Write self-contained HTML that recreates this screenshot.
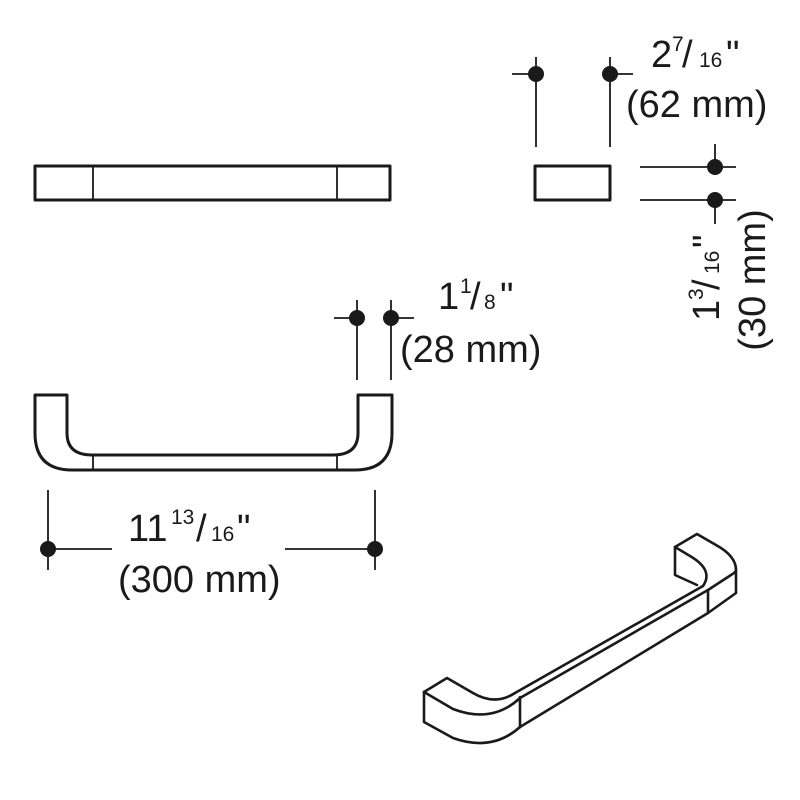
<!DOCTYPE html>
<html><head><style>
html,body{margin:0;padding:0;background:#fff;}
svg{display:block;}
text{font-family:"Liberation Sans",Arial,sans-serif;fill:#1a1a1a;}
</style></head><body>
<svg width="800" height="800" viewBox="0 0 800 800" xmlns="http://www.w3.org/2000/svg">
<g fill="none" stroke="#1a1a1a" stroke-width="3" stroke-linejoin="round">
  <rect x="35" y="166" width="355" height="34"/>
  <rect x="535" y="166" width="75" height="34"/>
</g>
<g stroke="#1a1a1a" stroke-width="1.8" fill="none">
  <line x1="93" y1="166" x2="93" y2="200"/>
  <line x1="337" y1="166" x2="337" y2="200"/>
  <line x1="536" y1="57" x2="536" y2="147"/>
  <line x1="512" y1="74" x2="536" y2="74"/>
  <line x1="610" y1="57" x2="610" y2="147"/>
  <line x1="610" y1="74" x2="633" y2="74"/>
  <line x1="640" y1="167" x2="736" y2="167"/>
  <line x1="640" y1="200" x2="736" y2="200"/>
  <line x1="715" y1="144" x2="715" y2="167"/>
  <line x1="715" y1="200" x2="715" y2="224"/>
  <line x1="357" y1="300" x2="357" y2="380"/>
  <line x1="334" y1="318" x2="357" y2="318"/>
  <line x1="391" y1="300" x2="391" y2="380"/>
  <line x1="391" y1="318" x2="414" y2="318"/>
  <line x1="48" y1="490" x2="48" y2="570"/>
  <line x1="375" y1="490" x2="375" y2="570"/>
  <line x1="48" y1="549" x2="112" y2="549"/>
  <line x1="285" y1="549" x2="375" y2="549"/>
</g>
<g fill="#1a1a1a">
  <circle cx="536" cy="74" r="8"/>
  <circle cx="610" cy="74" r="8"/>
  <circle cx="715" cy="167" r="8"/>
  <circle cx="715" cy="200" r="8"/>
  <circle cx="357" cy="318" r="8"/>
  <circle cx="391" cy="318" r="8"/>
  <circle cx="48" cy="549" r="8"/>
  <circle cx="375" cy="549" r="8"/>
</g>
<g fill="none" stroke="#1a1a1a" stroke-width="3" stroke-linejoin="round">
  <path d="M35 395 L67 395 L67 433 Q67 455 92 455 L333 455 Q358 455 358 433 L358 395 L392 395 L392 433 Q392 470 355 470 L72 470 Q35 470 35 433 Z"/>
</g>
<g stroke="#1a1a1a" stroke-width="1.8">
  <line x1="93" y1="455" x2="93" y2="470"/>
  <line x1="337" y1="455" x2="337" y2="470"/>
</g>
<g fill="none" stroke="#1a1a1a" stroke-width="2.6" stroke-linejoin="round" stroke-linecap="round">
  <path d="M424 692 L447 678 L473 693 Q495 706 515 693"/>
  <path d="M424 692 L453 709 Q492 724 520 698"/>
  <path d="M424 692 L424 722 L453 738 Q492 752 520 727"/>
  <line x1="520" y1="697" x2="520" y2="727"/>
  <line x1="515" y1="693" x2="703" y2="586"/>
  <line x1="520" y1="698" x2="708" y2="590"/>
  <line x1="520" y1="727" x2="708" y2="613"/>
  <line x1="708" y1="590" x2="708" y2="613"/>
  <path d="M675 547 L697 534 L716 545 Q736 556 736 570 L736 593 L708 613"/>
  <path d="M708 590 L731 575 Q736 572 736 570"/>
  <path d="M675 547 L675 575 L697 585"/>
  <path d="M675 547 L690 556 Q714 570 703 586"/>
</g>
<text x="651" y="67" font-size="38">2</text>
<text x="672" y="51" font-size="21">7</text>
<text x="682" y="67" font-size="38">/</text>
<text x="699" y="67" font-size="21">16</text>
<text x="726" y="67" font-size="38">"</text>
<text x="626" y="117" font-size="38">(62 mm)</text>

<text x="438" y="309" font-size="38">1</text>
<text x="460" y="293" font-size="21">1</text>
<text x="470" y="309" font-size="38">/</text>
<text x="484" y="309" font-size="21">8</text>
<text x="500" y="309" font-size="38">"</text>
<text x="400" y="362" font-size="38">(28 mm)</text>

<text x="128" y="541" font-size="38">11</text>
<text x="171" y="524" font-size="21">13</text>
<text x="196" y="541" font-size="38">/</text>
<text x="211" y="541" font-size="21">16</text>
<text x="237" y="541" font-size="38">"</text>
<text x="118" y="592" font-size="38">(300 mm)</text>

<g transform="translate(707,282) rotate(-90)">
  <text x="-39" y="12" font-size="38">1</text>
  <text x="-18" y="-4" font-size="21">3</text>
  <text x="-8" y="12" font-size="38">/</text>
  <text x="8" y="12" font-size="21">16</text>
  <text x="34" y="12" font-size="38">"</text>
</g>
<g transform="translate(752,280) rotate(-90)">
  <text x="0" y="13" font-size="38" text-anchor="middle">(30 mm)</text>
</g>
</svg>
</body></html>
